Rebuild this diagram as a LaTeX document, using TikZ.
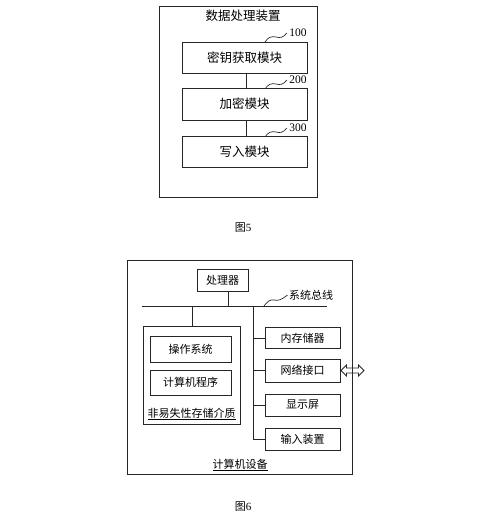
\documentclass[tikz,border=0pt]{standalone}
\usepackage{fontspec}
\setmainfont{Liberation Serif}
\newfontfamily\cjk{Noto Sans CJK SC}
\usetikzlibrary{shapes.arrows}
\begin{document}
\begin{tikzpicture}[x=1pt,y=-1pt,line width=0.9pt,
  box/.style={draw=black!85,font=\cjk\fontsize{11}{12}\selectfont},
  bigbox/.style={draw=black!85,font=\cjk\fontsize{12.5}{14}\selectfont},
  lbl/.style={font=\cjk\fontsize{11}{12}\selectfont,inner sep=1pt},
  num/.style={font=\fontsize{11.5}{12}\selectfont,inner sep=1pt},
  wire/.style={draw=black!85}]
\useasboundingbox (0,0) rectangle (500,532);
% ---------- Figure 5 ----------
\draw[wire] (159,6) rectangle (317,197);
\node[lbl,font=\cjk\fontsize{12.5}{14}\selectfont] (t5) at (243,16) {数据处理装置};
\node[bigbox,minimum width=125,minimum height=31,inner sep=0] (m1) at (244.5,57.5) {密钥获取模块};
\node[bigbox,minimum width=125,minimum height=32,inner sep=0] (m2) at (244.5,104) {加密模块};
\node[bigbox,minimum width=125,minimum height=31,inner sep=0] (m3) at (244.5,151.5) {写入模块};
\draw[wire] (m1.south -| 246,0) -- (m2.north -| 246,0);
\draw[wire] (m2.south -| 246,0) -- (m3.north -| 246,0);
\node[num] (n1) at (298,33) {100};
\node[num] (n2) at (298,80) {200};
\node[num] (n3) at (298,128) {300};
\foreach \n/\y in {n1/42,n2/89,n3/137}{
  \coordinate (s\n) at (265,\y);
  \draw[wire,line width=0.7pt] (s\n) .. controls (268,\y-5) and (272,\y-6) .. (276,\y-5)
     .. controls (280,\y-4) and (283,\y-4) .. ([xshift=-1pt]\n.west);
}
\node[lbl] (c5) at (243,228) {图\fontspec{Liberation Serif}5};
% ---------- Figure 6 ----------
\draw[wire] (127,260) rectangle (352,474);
\node[box,minimum width=51,minimum height=22,inner sep=0] (cpu) at (222.5,280) {处理器};
\coordinate (busL) at (142,306);
\coordinate (busR) at (327,306);
\draw[wire] (busL) -- (busR);
\draw[wire] (cpu.south -| 228,0) -- (228,306);
\node[lbl] (busl) at (311,295) {系统总线};
\coordinate (bq) at (264,306);
\draw[wire,line width=0.7pt] (bq) .. controls (267,302) and (270,299) .. (274,300)
   .. controls (278,301) and (281,300) .. (busl.west);
% left storage
\draw[wire] (143,326) rectangle (240,424);
\draw[wire] (192,306) -- (192,326);
\node[box,minimum width=81,minimum height=26,inner sep=0] (os) at (190.5,349) {操作系统};
\node[box,minimum width=81,minimum height=25,inner sep=0] (prog) at (190.5,382.5) {计算机程序};
\node[lbl] (nv) at (191.5,414) {\underline{非易失性存储介质}};
% right column
\draw[wire] (253,306) -- (253,439);
\node[box,minimum width=75,minimum height=21,inner sep=0] (mem) at (302.5,338) {内存储器};
\node[box,minimum width=75,minimum height=23,inner sep=0] (net) at (302.5,370.5) {网络接口};
\node[box,minimum width=75,minimum height=22,inner sep=0] (disp) at (302.5,405) {显示屏};
\node[box,minimum width=75,minimum height=22,inner sep=0] (inp) at (302.5,439) {输入装置};
\foreach \b in {mem,net,disp,inp}{\draw[wire] (253,0 |- \b.west) -- (\b.west);}
\node[draw=black!85,double arrow,double arrow head extend=2pt,minimum height=23,minimum width=11,inner sep=1.2pt,line width=0.8pt,anchor=west] (arr) at (net.east) {};
\node[lbl] (dev) at (240,465) {\underline{计算机设备}};
\node[lbl] (c6) at (243,507) {图\fontspec{Liberation Serif}6};
\end{tikzpicture}
\end{document}
